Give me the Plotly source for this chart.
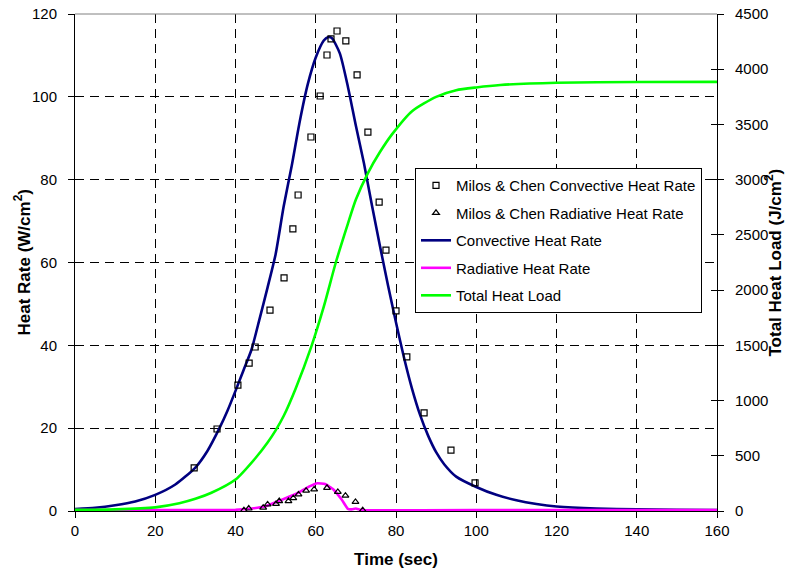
import plotly.graph_objects as go

# Milos & Chen reference data
mc_conv_t = [29.7, 35.4, 40.6, 43.4, 44.9, 48.6, 52.1, 54.3, 55.6, 58.8, 61.1, 62.8, 63.8, 65.3,
             67.5, 70.3, 73.0, 75.8, 77.5, 80.0, 82.7, 87.0, 93.7, 99.7]
mc_conv_q = [10.4, 19.8, 30.4, 35.7, 39.6, 48.5, 56.3, 68.1, 76.3, 90.3, 100.2, 110.1, 114.0, 115.9,
             113.5, 105.3, 91.5, 74.6, 63.0, 48.3, 37.2, 23.7, 14.7, 6.8]

mc_rad_t = [42.1, 43.3, 46.9, 48.0, 50.1, 50.9, 53.2, 54.4, 55.7, 57.6, 59.6, 62.8, 65.5, 67.4, 69.9, 71.7]
mc_rad_q = [0.2, 0.6, 0.8, 1.6, 1.7, 2.4, 2.4, 3.1, 4.0, 4.9, 5.2, 5.6, 4.6, 3.7, 2.2, 0.2]

# Computed convective heat rate
conv_t = [0, 5, 10, 15, 20, 25, 30, 33, 36, 38, 40, 42, 44, 46, 48, 50, 52, 54, 56, 58, 60, 62, 63,
          64, 66, 68, 70, 72, 74, 76, 78, 80, 82, 84, 86, 88, 90, 92, 95, 100, 105, 110, 115, 120,
          130, 140, 150, 160]
conv_q = [0.5, 0.8, 1.4, 2.3, 3.9, 6.4, 10.5, 14.5, 20.0, 24.2, 29.0, 34.0, 39.0, 46.4, 54.0, 62.0, 73.5,
          83.3, 94.0, 103.0, 109.5, 113.6, 114.4, 114.2, 110.5, 102.5, 93.0, 84.0, 73.8, 64.0, 54.5, 45.5,
          37.0, 29.5, 23.2, 18.2, 14.2, 11.3, 8.3, 5.8, 3.9, 2.6, 1.7, 1.1, 0.6, 0.4, 0.3, 0.2]

# Computed radiative heat rate
rad_t = [0, 30, 40, 44, 47, 51, 55, 58.6, 60.4, 62.3, 64.4, 66.5, 68.0, 69.0, 70.0, 71.0, 72.0, 100, 160]
rad_q = [0.2, 0.2, 0.3, 0.6, 1.0, 2.5, 4.1, 6.0, 6.7, 6.5, 5.2, 2.7, 0.5, 0.4, 0.6, 0.3, 0.2, 0.2, 0.2]

# Total heat load (right axis)
load_t = [0, 10, 20, 26, 30, 34, 40, 45, 48, 50, 52, 55, 59, 62, 65, 68, 70, 73, 76, 79, 84, 90, 95,
          100, 106, 120, 140, 160]
load_q = [10, 15, 33, 70, 110, 165, 285, 480, 620, 730, 860, 1110, 1500, 1850, 2250, 2600, 2820, 3060,
          3250, 3410, 3620, 3750, 3810, 3835, 3857, 3878, 3884, 3885]

x_ticks = [0, 20, 40, 60, 80, 100, 120, 140, 160]
y_ticks = [0, 20, 40, 60, 80, 100, 120]
y2_ticks = [0, 500, 1000, 1500, 2000, 2500, 3000, 3500, 4000, 4500]

FONT = "Liberation Sans, Arial, sans-serif"

fig = go.Figure()

fig.add_trace(go.Scatter(x=conv_t, y=conv_q, mode="lines", name="Convective Heat Rate",
                         line=dict(color="#000080", width=2.6, shape="spline", smoothing=0.6),
                         legendrank=3, legendgroup="c"))
fig.add_trace(go.Scatter(x=rad_t, y=rad_q, mode="lines", name="Radiative Heat Rate",
                         line=dict(color="#FF00FF", width=2.6, shape="spline", smoothing=0.3),
                         legendrank=4, legendgroup="r"))
fig.add_trace(go.Scatter(x=mc_conv_t, y=mc_conv_q, mode="markers", name="Milos & Chen Convective Heat Rate",
                         marker=dict(symbol="square-open", size=6, color="black", line=dict(width=1.2)),
                         legendrank=1, legendgroup="mc"))
fig.add_trace(go.Scatter(x=mc_rad_t, y=mc_rad_q, mode="markers", name="Milos & Chen Radiative Heat Rate",
                         marker=dict(symbol="triangle-up-open", size=6, color="black", line=dict(width=1.2)),
                         legendrank=2, legendgroup="mr"))
fig.add_trace(go.Scatter(x=load_t, y=load_q, mode="lines", name="Total Heat Load", yaxis="y2",
                         line=dict(color="#00FF00", width=2.6, shape="spline", smoothing=0.6),
                         legendrank=5, legendgroup="l"))
# empty helper trace so the inner-tick overlay axis is drawn
fig.add_trace(go.Scatter(x=[], y=[], yaxis="y3", showlegend=False, hoverinfo="skip"))

grid = dict(showgrid=True, gridcolor="black", gridwidth=1, griddash="9px,6px")
TF = dict(size=17, family=FONT, color="black")

fig.update_layout(
    width=790, height=571,
    margin=dict(l=75, r=73, t=14, b=60, autoexpand=False),
    paper_bgcolor="white", plot_bgcolor="white",
    font=dict(family=FONT, size=15, color="black"),
    showlegend=True,
    legend=dict(x=0.5296, y=0.69, xanchor="left", yanchor="top", bgcolor="white",
                bordercolor="black", borderwidth=1, font=dict(size=15, family=FONT),
                traceorder="grouped", tracegroupgap=5),
    xaxis=dict(range=[0, 160], tickvals=x_ticks, ticks="outside", ticklen=6, tickcolor="black",
               ticklabelstandoff=0, automargin=False,
               showline=True, linecolor="black", linewidth=1, zeroline=False, layer="below traces",
               title=dict(text="<b>Time (sec)</b>", font=TF, standoff=15), **grid),
    yaxis=dict(range=[0, 120], tickvals=y_ticks, ticks="outside", ticklen=6, tickcolor="black",
               ticklabelstandoff=8, automargin=False,
               showline=True, linecolor="black", linewidth=1, zeroline=False, layer="below traces",
               **grid),
    yaxis2=dict(range=[0, 4500], tickvals=y2_ticks, overlaying="y", side="right", anchor="x",
                ticks="outside", ticklen=6, tickcolor="black", showline=True, linecolor="black",
                ticklabelstandoff=8, automargin=False,
                linewidth=1, showgrid=False, zeroline=False, layer="below traces"),
    yaxis3=dict(range=[0, 4500], tickvals=y2_ticks, overlaying="y", side="right", anchor="x",
                ticks="inside", ticklen=6, tickcolor="black", showticklabels=False, showline=False,
                showgrid=False, zeroline=False, automargin=False),
    shapes=[dict(type="line", xref="paper", yref="paper", x0=0, x1=1, y0=1, y1=1,
                 line=dict(color="#808080", width=1))],
    annotations=[
        dict(text="<b>Heat Rate (W/cm<sup>2</sup>)</b>", textangle=-90, font=TF, showarrow=False,
             xref="paper", yref="paper", x=(22 - 75) / 642, y=0.5, xanchor="center", yanchor="middle"),
        dict(text="<b>Total Heat Load (J/cm<sup>2</sup>)</b>", textangle=-90, font=TF, showarrow=False,
             xref="paper", yref="paper", x=(773 - 75) / 642, y=0.5, xanchor="center", yanchor="middle"),
    ],
)

fig.write_html("out.html", post_script="document.body.style.margin='0px';",
               config={"displayModeBar": False})
